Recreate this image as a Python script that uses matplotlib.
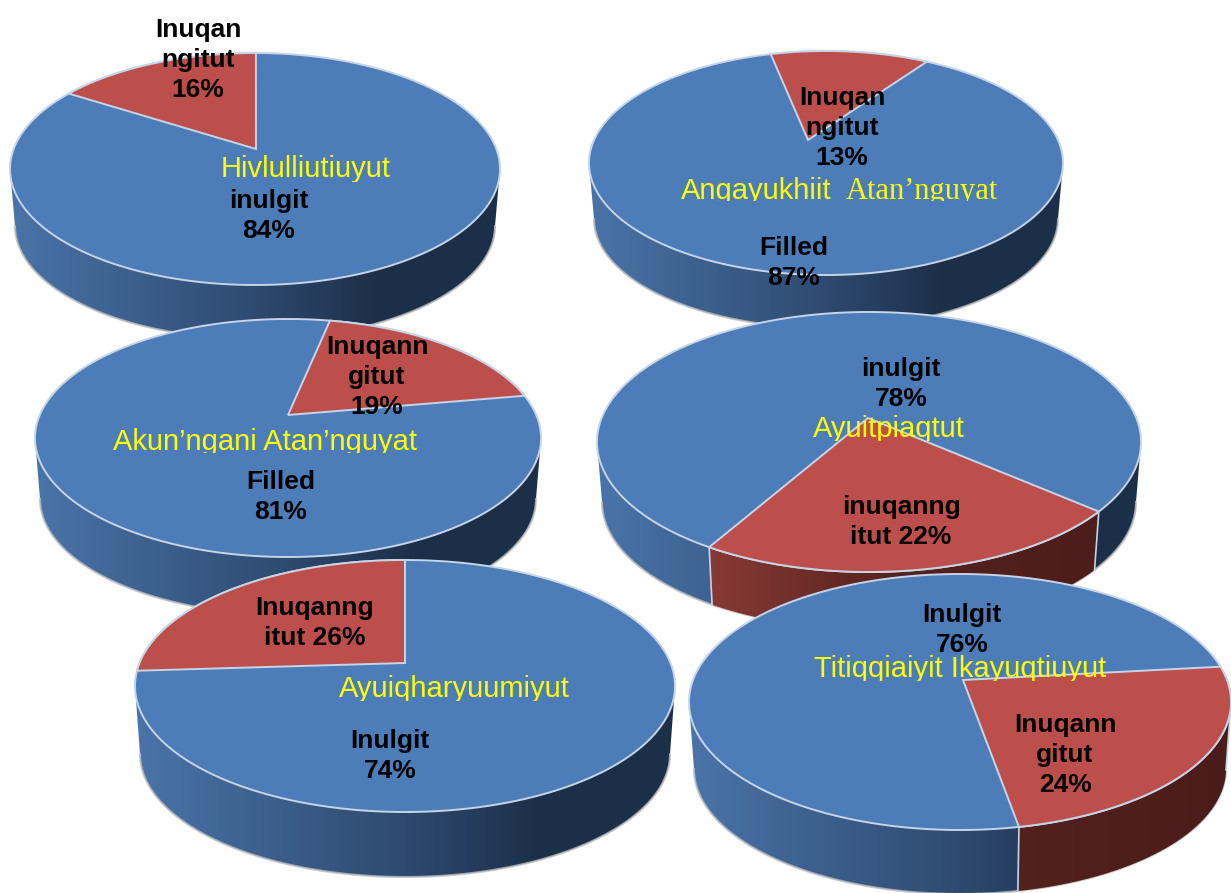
import numpy as np
import matplotlib
matplotlib.use('Agg')
import matplotlib.pyplot as plt
from matplotlib.colors import LinearSegmentedColormap
from matplotlib.patches import Polygon, Rectangle

W, H = 1231, 893

# share of each pie: [inuqangitut, inulgit]
red_values = [16, 13, 19, 22, 26, 24]
blue_values = [84, 87, 81, 78, 74, 76]

red_labels = ['Inuqan\nngitut\n16%', 'Inuqan\nngitut\n13%', 'Inuqann\ngitut\n19%',
              'inuqanng\nitut 22%', 'Inuqanng\nitut 26%', 'Inuqann\ngitut\n24%']
blue_labels = ['inulgit\n84%', 'Filled\n87%', 'Filled\n81%', 'inulgit\n78%', 'Inulgit\n74%', 'Inulgit\n76%']
titles = ['Hivlulliutiuyut', 'Angayukhiit', 'Akun\u2019ngani Atan\u2019nguyat',
          'Ayuitpiaqtut', 'Ayuiqharyuumiyut', 'Titiqqiaiyit Ikayuqtiuyut']
title_extra = 'Atan\u2019nguyat'

# cx, cy, rx, ry, apex x, apex y, depth, start angle of the red slice
pies = [
    (255, 169, 245, 116, 256, 149, 57, 90),
    (826, 163, 237, 112, 808, 140, 56, 55),
    (288, 438, 253, 119, 288, 415, 61, 10),
    (869, 442, 272, 130, 868, 418, 60, 240),
    (405, 686, 270, 126, 405, 663, 68, 90),
    (960, 702, 271, 128, 963, 680, 67, -80),
]
# label positions
red_pos = [(198, 60), (842, 128), (377, 377), (901, 522), (315, 623), (1065, 755)]
blue_pos = [(269, 216), (794, 263), (281, 497), (901, 384), (390, 756), (962, 630)]
# title x centre, baseline, y where the pasted text is cut off
title_pos = [(306, 177, 182), (756, 199, 201), (265, 450, 453), (889, 437, 441), (454, 697, 701), (960, 677, 681)]

BLUE = '#4d7db8'
RED = '#bc4f4c'
EDGE = '#c6d4e6'
blue_wall = LinearSegmentedColormap.from_list('bw', [(0, '#4a74a8'), (0.5, '#2e4a70'), (0.75, '#1c2f49'), (1, '#1d304a')])
red_wall = LinearSegmentedColormap.from_list('rw', [(0, '#93403a'), (0.2, '#8a3a35'), (0.55, '#55221e'), (1, '#4a1c19')])


def ring(cx, cy, rx, ry, ax_, ay_, angles):
    # circle seen in perspective, so the slice apex sits off the ellipse centre
    p = np.array([(ax_ - cx) / rx, (cy - ay_) / ry])
    n = np.hypot(*p)
    u = np.column_stack([np.cos(angles), np.sin(angles)])
    hat = p / n
    par = u @ hat
    perp = u - np.outer(par, hat)
    den = 1 + u @ p
    q = (np.outer(par + n, hat) + np.sqrt(1 - n ** 2) * perp) / den[:, None]
    return cx + rx * q[:, 0], cy - ry * q[:, 1]


def lower(x, y, pie):
    # same points on the bottom face, a little smaller than the top one
    cx, cy, rx, ry, _, _, d, _ = pie
    return cx + (x - cx) * (rx - 5) / rx, cy + d + (y - cy) * (ry - 3) / ry


def wall(ax, x, y, pie, cmap, z):
    cx, cy, rx, ry, _, _, d, _ = pie
    bx, by = lower(x, y, pie)
    poly = Polygon(np.column_stack([np.r_[x, bx[::-1]], np.r_[y, by[::-1]]]), closed=True,
                   fc='none', ec='none', zorder=z)
    ax.add_patch(poly)
    grad = np.linspace(0, 1, 256)[None, :]
    im = ax.imshow(grad, cmap=cmap, vmin=0, vmax=1, extent=(cx - rx, cx + rx, cy + ry + d, cy - ry),
                   aspect='auto', zorder=z)
    im.set_clip_path(poly)
    return bx, by


fig = plt.figure(figsize=(W / 100, H / 100), dpi=100)
ax = fig.add_axes([0, 0, 1, 1])
font = ['Liberation Sans', 'DejaVu Sans']

for i, pie in enumerate(pies):
    cx, cy, rx, ry, ax_, ay_, d, start = pie
    z = i + 1
    sweep = 360 * red_values[i] / (red_values[i] + blue_values[i])
    ta = np.radians(np.linspace(start, start + sweep, 160))
    arc_x, arc_y = ring(cx, cy, rx, ry, ax_, ay_, ta)

    # wall: front half of the outline, coloured by the slice on top of it
    tt = np.radians(np.linspace(180, 360, 241))
    ex, ey = cx + rx * np.cos(tt), cy - ry * np.sin(tt)
    bx, by = wall(ax, ex, ey, pie, blue_wall, z)
    ax.plot(bx, by, color='#bdbdbd', lw=1.5, alpha=0.8, zorder=z)

    front = arc_y >= cy
    if front.sum() > 1:
        fx_, fy_ = arc_x[front], arc_y[front]
        wall(ax, fx_, fy_, pie, red_wall, z)
        for xe, ye in [(fx_[0], fy_[0]), (fx_[-1], fy_[-1])]:
            xl, yl = lower(np.array([xe]), np.array([ye]), pie)
            ax.plot([xe, xl[0]], [ye, yl[0]], color=EDGE, lw=1.2, zorder=z)

    # top face
    all_a = np.radians(np.linspace(0, 360, 361))
    ax.fill(cx + rx * np.cos(all_a), cy - ry * np.sin(all_a), fc=BLUE, ec=EDGE, lw=1.4, zorder=z)
    ax.fill(np.r_[ax_, arc_x], np.r_[ay_, arc_y], fc=RED, ec=EDGE, lw=1.4, zorder=z)

for i in range(6):
    ax.text(*red_pos[i], red_labels[i], ha='center', va='center', family=font, fontweight='bold',
            fontsize=19, color='black', linespacing=1.3, zorder=20)
    ax.text(*blue_pos[i], blue_labels[i], ha='center', va='center', family=font, fontweight='bold',
            fontsize=19, color='black', linespacing=1.3, zorder=20)
    tx, base, cut = title_pos[i]
    t = ax.text(tx, base, titles[i], ha='center', va='baseline', family=font,
                fontsize=21, color='#ffff00', zorder=21)
    t.set_clip_path(Rectangle((0, 0), W, cut, transform=ax.transData))
    t.set_clip_on(True)

# second word of the second title is in a serif face in the source
t = ax.text(922, 199, title_extra, ha='center', va='baseline', family=['Liberation Serif', 'DejaVu Serif'],
            fontsize=22, color='#ffff00', zorder=21)
t.set_clip_path(Rectangle((0, 0), W, 201, transform=ax.transData))
t.set_clip_on(True)

ax.set_xlim(0, W)
ax.set_ylim(H, 0)
ax.axis('off')
fig.savefig('out.png', dpi=100)
